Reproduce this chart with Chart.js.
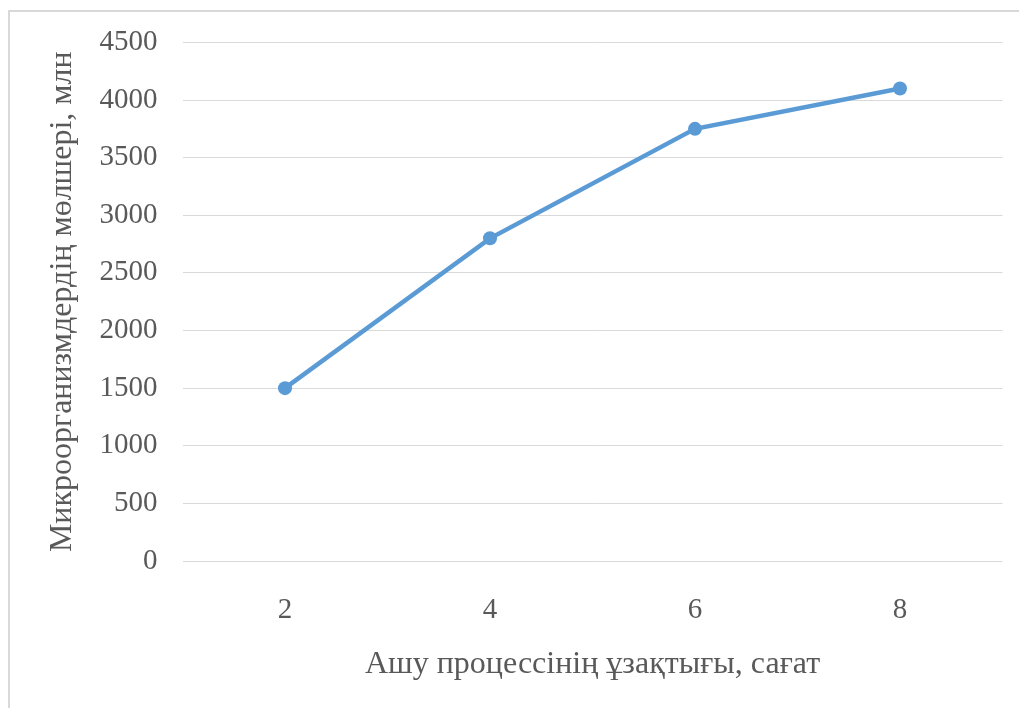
<!DOCTYPE html>
<html>
<head>
<meta charset="utf-8">
<script src="https://cdn.jsdelivr.net/npm/chart.js@4/dist/chart.umd.min.js"></script>
<style>
  html,body{margin:0;padding:0;background:#fff;overflow:hidden}
  #wrap{position:absolute;left:0;top:0;width:1019px;height:708px}
  #frame{position:absolute;left:8px;top:10px;width:1100px;height:800px;border-left:2px solid #d9d9d9;border-top:2px solid #d9d9d9}
  canvas{position:absolute;left:0;top:0}
</style>
</head>
<body>
<div id="wrap">
  <div id="frame"></div>
  <canvas id="chart" width="1019" height="708"></canvas>
</div>
<script>
// fermentation time (hours) vs. microorganism count (mln)
const hours = ['2','4','6','8'];
const counts = [1500, 2800, 3750, 4100];
const yTitle = 'Микроорганизмдердің мөлшері, млн';
const xTitle = 'Ашу процессінің ұзақтығы, сағат';

const serif = '"Liberation Serif", "Times New Roman", serif';
const grey = '#595959';
const blue = '#5b9bd5';

new Chart(document.getElementById('chart'), {
  type:'line',
  data:{
    labels: hours,
    datasets:[{
      data: counts,
      borderColor: blue, backgroundColor: blue,
      borderWidth: 4.5, pointRadius: 7, pointHoverRadius: 7,
      pointBorderWidth: 0, tension: 0
    }]
  },
  options:{
    responsive:false, animation:false,
    layout:{padding:{left:0, top:40, right:16.5, bottom:0}},
    plugins:{legend:{display:false}, tooltip:{enabled:false}},
    scales:{
      x:{
        offset:true,
        grid:{display:false, drawTicks:false},
        border:{display:false},
        ticks:{color:grey, font:{family:serif, size:29}, padding:32},
        title:{display:true, text:xTitle, color:grey, font:{family:serif, size:32}, padding:24},
        afterFit:s=>{ s.height = 147; }
      },
      y:{
        min:0, max:4500,
        grid:{color:'#d9d9d9', lineWidth:1, drawTicks:false},
        border:{display:false},
        ticks:{stepSize:500, color:grey, font:{family:serif, size:29}, padding:25,
          callback:v=>String(v)},
        title:{display:true, text:yTitle, color:grey, font:{family:serif, size:32}, padding:43},
        afterFit:s=>{ s.width = 182.5; }
      }
    }
  }
});
</script>
</body>
</html>
